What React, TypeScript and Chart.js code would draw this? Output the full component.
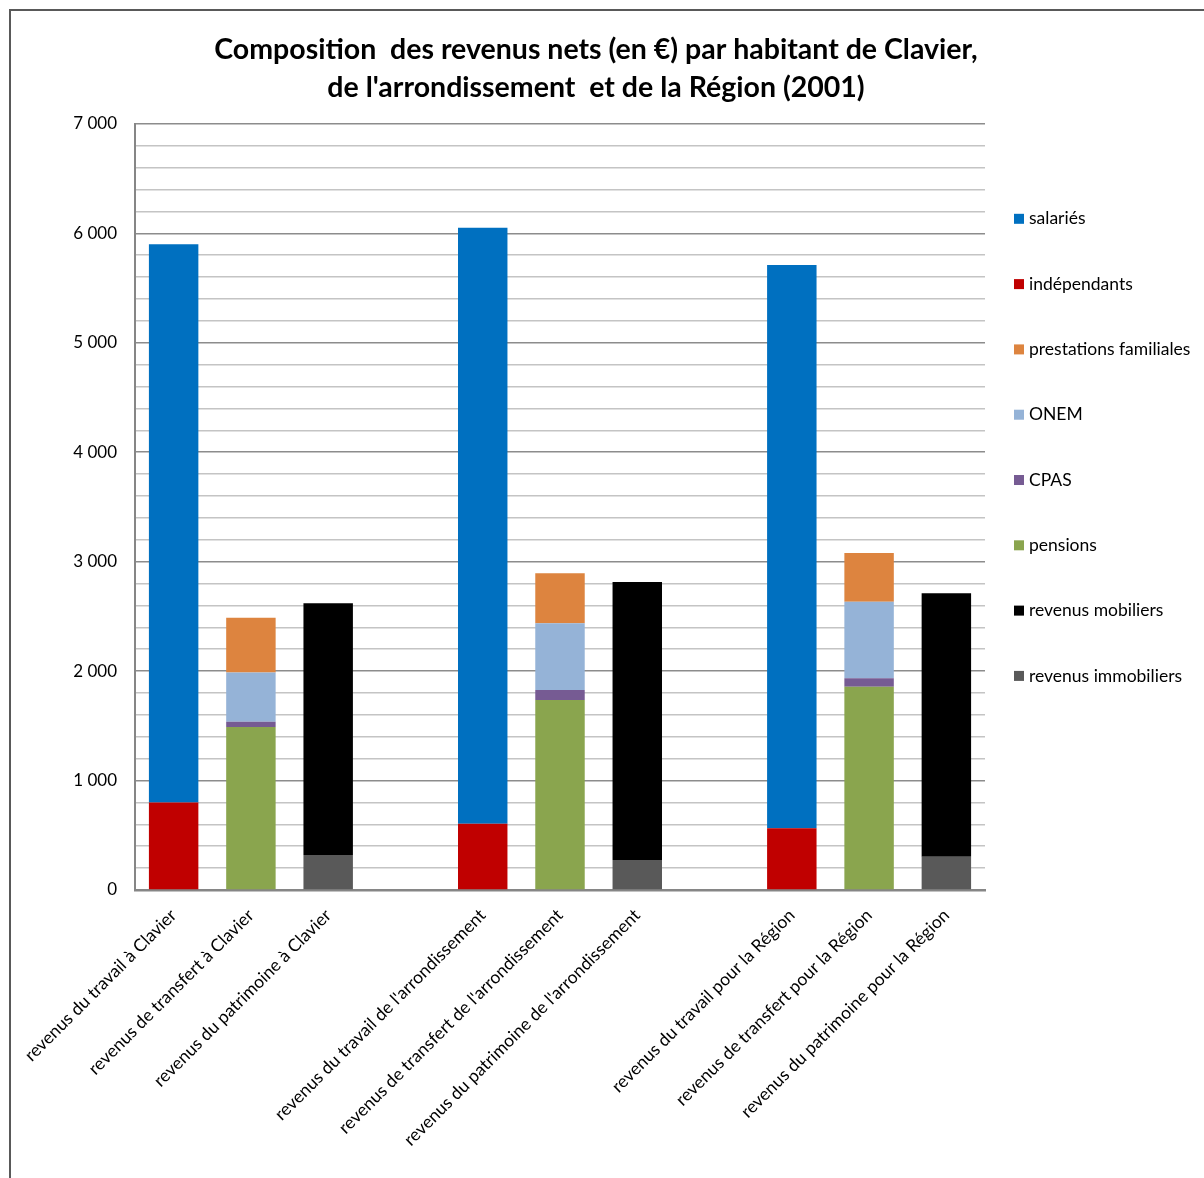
import React, { useEffect, useRef } from 'react';
import { Chart, registerables } from 'chart.js';

Chart.register(...registerables);

const titleLines = [
  'Composition  des revenus nets (en €) par habitant de Clavier,',
  "de l'arrondissement  et de la Région (2001)",
];

const categories = [
  'revenus du travail à Clavier',
  'revenus de transfert à Clavier',
  'revenus du patrimoine à Clavier',
  '',
  "revenus du travail de l'arrondissement",
  "revenus de transfert de l'arrondissement",
  "revenus du patrimoine de l'arrondissement",
  '',
  'revenus du travail pour la Région',
  'revenus de transfert pour la Région',
  'revenus du patrimoine pour la Région',
];

const salaries = [5100, null, null, null, 5445, null, null, null, 5145, null, null];
const independants = [800, null, null, null, 605, null, null, null, 565, null, null];
const prestationsFamiliales = [null, 500, null, null, null, 457, null, null, null, 445, null];
const onem = [null, 450, null, null, null, 610, null, null, null, 698, null];
const cpas = [null, 48, null, null, null, 91, null, null, null, 77, null];
const pensions = [null, 1490, null, null, null, 1737, null, null, null, 1858, null];
const revenusMobiliers = [null, null, 2300, null, null, null, 2539, null, null, null, 2408];
const revenusImmobiliers = [null, null, 320, null, null, null, 274, null, null, null, 304];

const yTicks = [0, 1000, 2000, 3000, 4000, 5000, 6000, 7000];

const FONT = 'Lato, "Open Sans", sans-serif';

const sideLegend = {
  id: 'sideLegend',
  afterDraw(chart: any) {
    const { ctx, chartArea } = chart;
    const items = chart.data.datasets.slice().reverse();
    ctx.save();
    ctx.font = `17.5px ${FONT}`;
    ctx.textBaseline = 'middle';
    ctx.textAlign = 'left';
    items.forEach((d: any, i: number) => {
      const x = chartArea.right + 29;
      const y = chartArea.top + 95 + i * 65.3;
      ctx.fillStyle = d.backgroundColor;
      ctx.fillRect(x, y - 5, 10, 10);
      ctx.fillStyle = '#000';
      ctx.fillText(d.label, x + 15, y);
    });
    ctx.restore();
  },
};

function formatTick(v: number): string {
  if (v === 0) return '0';
  return `${Math.floor(v / 1000)} 000`;
}

export default function App() {
  const ref = useRef<HTMLCanvasElement | null>(null);

  useEffect(() => {
    if (!ref.current) return;
    Chart.defaults.font.family = FONT;
    const chart = new Chart(ref.current, {
      type: 'bar',
      data: {
        labels: categories,
        datasets: [
          { label: 'revenus immobiliers', data: revenusImmobiliers, backgroundColor: '#595959' },
          { label: 'revenus mobiliers', data: revenusMobiliers, backgroundColor: '#000000' },
          { label: 'pensions', data: pensions, backgroundColor: '#8AA54E' },
          { label: 'CPAS', data: cpas, backgroundColor: '#765B93' },
          { label: 'ONEM', data: onem, backgroundColor: '#95B3D7' },
          { label: 'prestations familiales', data: prestationsFamiliales, backgroundColor: '#DD843F' },
          { label: 'indépendants', data: independants, backgroundColor: '#C00000' },
          { label: 'salariés', data: salaries, backgroundColor: '#0070C0' },
        ] as any,
      },
      options: {
        responsive: false,
        animation: false,
        datasets: {
          bar: { categoryPercentage: 1, barPercentage: 0.64 },
        } as any,
        layout: { padding: { left: 10, right: 22, top: 12, bottom: 0 } },
        plugins: {
          legend: { display: false },
          tooltip: { enabled: false },
          title: {
            display: true,
            text: titleLines,
            color: '#000',
            font: { family: FONT, size: 28.5, weight: 'bold', lineHeight: 1.33 },
            padding: { top: 19, bottom: 17 },
          },
        },
        scales: {
          x: {
            stacked: true,
            grid: { display: false },
            border: { display: true, color: '#868686', width: 2.5 },
            ticks: {
              autoSkip: false,
              maxRotation: 45,
              minRotation: 45,
              color: '#000',
              font: { size: 17.5 },
              padding: 7,
            },
            afterFit: (s: any) => { s.height = 288; },
          },
          y: {
            stacked: true,
            min: 0,
            max: 7000,
            border: { display: true, color: '#868686', width: 2 },
            grid: {
              drawTicks: false,
              color: (c: any) => (c.tick && yTicks.includes(c.tick.value) ? '#8c8c8c' : '#c4c4c4'),
              lineWidth: 1.5,
            },
            ticks: {
              stepSize: 200,
              autoSkip: false,
              maxTicksLimit: 100,
              padding: 18,
              color: '#000',
              font: { size: 17 },
              callback: (v: any) => (yTicks.includes(Number(v)) ? formatTick(Number(v)) : ''),
            },
            afterFit: (s: any) => { s.width = 125; },
          },
          yRight: {
            type: 'linear',
            position: 'right',
            display: true,
            grid: { display: false },
            border: { display: false },
            ticks: { display: false },
            afterFit: (s: any) => { s.width = 197; },
          },
        } as any,
      },
      plugins: [sideLegend],
    });
    return () => chart.destroy();
  }, []);

  return (
    <div style={{ position: 'absolute', left: 0, top: 0, width: 1204, height: 1178, background: '#fff', overflow: 'hidden' }}>
      <canvas ref={ref} width={1204} height={1178} style={{ position: 'absolute', left: 0, top: 0, width: 1204, height: 1178 }} />
      <div
        style={{
          position: 'absolute',
          left: 9,
          top: 9,
          width: 1210,
          height: 1180,
          borderLeft: '2px solid #595959',
          borderTop: '2px solid #595959',
          pointerEvents: 'none',
        }}
      />
    </div>
  );
}
